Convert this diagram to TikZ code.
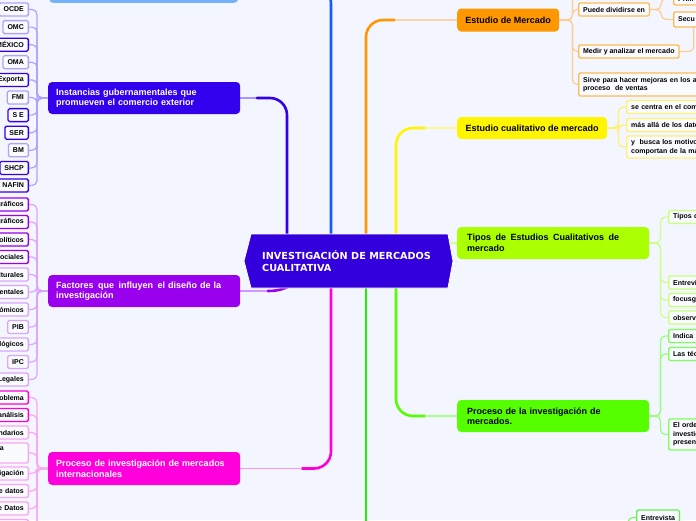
\documentclass[tikz,border=0pt]{standalone}
\usepackage{fontspec}
\setmainfont{Liberation Sans}
\newfontfamily\centerfont{DejaVu Sans}
\pgfdeclarelayer{back}
\pgfdeclarelayer{links}
\pgfsetlayers{back,links,main}
\definecolor{bgc}{RGB}{243,246,254}
\definecolor{cenC}{RGB}{51,0,221}
\definecolor{instC}{RGB}{51,0,238}
\definecolor{instH}{RGB}{170,150,255}
\definecolor{instL}{RGB}{175,162,255}
\definecolor{factC}{RGB}{153,0,238}
\definecolor{factH}{RGB}{210,150,255}
\definecolor{factL}{RGB}{218,165,255}
\definecolor{pintC}{RGB}{255,0,221}
\definecolor{pintH}{RGB}{250,150,240}
\definecolor{pintL}{RGB}{252,165,242}
\definecolor{oraC}{RGB}{255,152,0}
\definecolor{oraH}{RGB}{250,212,165}
\definecolor{oraL}{RGB}{255,205,145}
\definecolor{oraB}{RGB}{255,185,80}
\definecolor{yelC}{RGB}{255,245,0}
\definecolor{yelH}{RGB}{255,245,150}
\definecolor{yelB}{RGB}{255,240,110}
\definecolor{limC}{RGB}{170,255,0}
\definecolor{limL}{RGB}{205,255,140}
\definecolor{limB}{RGB}{200,255,120}
\definecolor{grnC}{RGB}{85,255,0}
\definecolor{grnH}{RGB}{170,255,140}
\definecolor{grnL}{RGB}{150,255,120}
\definecolor{grnB}{RGB}{125,255,90}
\definecolor{gr2C}{RGB}{30,240,0}
\definecolor{gr2L}{RGB}{120,245,100}
\definecolor{gr2B}{RGB}{100,240,80}
\definecolor{bluC}{RGB}{20,90,255}
\definecolor{bluL}{RGB}{115,178,250}
\definecolor{leafF}{RGB}{250,251,255}
\tikzset{
  mbox/.style={anchor=west, rounded corners=4pt, inner ysep=0pt, align=left,
    font=\fontsize{9}{10.5}\selectfont\bfseries},
  leaf/.style={draw, line width=1.3pt, rounded corners=1.5pt, fill=leafF,
    inner xsep=4.5pt, inner ysep=0pt, minimum height=13pt,
    font=\fontsize{7}{8.6}\selectfont\bfseries, text=black},
  leafW/.style={leaf, anchor=west},
  leafE/.style={leaf, anchor=east},
  leafR/.style={leaf, anchor=west, text width=70pt, align=left},
  leafLc/.style={leaf, anchor=east, text width=40pt, align=right},
  trunk/.style={line width=2.6pt, line cap=round},
  branch/.style={line width=1.5pt},
  twig/.style={line width=1.2pt, rounded corners=5pt},
}
\begin{document}
\begin{tikzpicture}[x=1pt,y=-1pt]
\useasboundingbox (0,0) rectangle (696,520);
\begin{pgfonlayer}{back}
\fill[bgc] (0,0) rectangle (696,520);
\end{pgfonlayer}

% centre
\fill[cenC, draw=white, line width=0.8pt] (251,234) -- (448,234) -- (453,261) -- (448,288) -- (251,288) -- (244,261) -- cycle;
\node[font={\centerfont\fontsize{9.7}{12}\selectfont\bfseries}, text=white, align=left, anchor=west, inner sep=0pt] (C) at (262,261) {INVESTIGACIÓN DE MERCADOS\\CUALITATIVA};
\coordinate (cI) at (287,240);
\coordinate (cB) at (331,240);
\coordinate (cO) at (366,240);
\coordinate (cY) at (396,240);
\coordinate (cM) at (331,282);
\coordinate (cG) at (366,282);
\coordinate (cP) at (396,282);
\coordinate (cT) at (449,243);
\coordinate (cF) at (295,284);

% top node (cut)
\node[fill=bluL, rounded corners=4pt, minimum width=189pt, minimum height=33pt, anchor=south west, inner sep=0pt] (topn) at (49,3) {};

% main boxes
\node[mbox, fill=instC, text=white, text width=176pt, inner xsep=8pt, minimum height=32pt] (inst) at (48,98) {Instancias gubernamentales que\\promueven el comercio exterior};
\node[mbox, fill=factC, text=white, text width=176pt, inner xsep=8pt, minimum height=32pt] (fact) at (48,291) {\hbox to 165pt{Factores \hfill que \hfill influyen \hfill el diseño de la}\\investigación};
\node[mbox, fill=pintC, text=white, text width=176pt, inner xsep=8pt, minimum height=33pt] (pint) at (48,468.5) {Proceso de investigación de mercados\\internacionales};
\node[mbox, fill=oraC, text=black, minimum width=102pt, minimum height=23pt, align=center] (em) at (457,20) {Estudio de Mercado};
\node[mbox, fill=yelC, text=black, minimum width=150pt, minimum height=22pt, align=center] (ecm) at (457,128) {Estudio cualitativo de mercado};
\node[mbox, fill=limC, text=black, text width=172pt, inner xsep=10pt, minimum height=32pt] (tipos) at (457,243) {\hbox to 152pt{Tipos \hfill de \hfill Estudios \hfill Cualitativos \hfill de}\\mercado};
\node[mbox, fill=grnC, text=black, text width=172pt, inner xsep=10pt, minimum height=32pt] (proc) at (457,416) {Proceso de la investigación de\\mercados.};

% Instancias leaves
\node[leafE, draw=instL] (i1) at (29,9.5) {OCDE};
\node[leafE, draw=instL] (i2) at (29,27.1) {OMC};
\node[leafLc, draw=instC] (i3) at (29,44.7) {MÉXICO};
\node[leafE, draw=instL] (i4) at (29,62.3) {OMA};
\node[leafLc, draw=instC] (i5) at (29,79.9) {Exporta};
\node[leafE, draw=instL] (i6) at (29,97.5) {FMI};
\node[leafE, draw=instC] (i7) at (29,115.1) {S E};
\node[leafE, draw=instC] (i8) at (29,132.7) {SER};
\node[leafE, draw=instL] (i9) at (29,150.3) {BM};
\node[leafE, draw=instC] (i10) at (29,167.9) {SHCP};
\node[leafE, draw=instC] (i11) at (29,185.5) {NAFIN};

% Factores leaves
\node[leafLc, draw=factC] (f1) at (29,204.5) {gráficos};
\node[leafLc, draw=factC] (f2) at (29,222) {gráficos};
\node[leafLc, draw=factC] (f3) at (29,239.5) {olíticos};
\node[leafLc, draw=factC] (f4) at (29,257) {Sociales};
\node[leafLc, draw=factL] (f5) at (29,274.5) {lturales};
\node[leafLc, draw=factL] (f6) at (29,292) {entales};
\node[leafLc, draw=factL] (f7) at (29,309.5) {ómicos};
\node[leafE, draw=factL] (f8) at (29,327) {PIB};
\node[leafLc, draw=factL] (f9) at (29,344.5) {lógicos};
\node[leafE, draw=factL] (f10) at (29,362) {IPC};
\node[leafLc, draw=factL] (f11) at (29,379.5) {Legales};

% Proceso internacional leaves
\node[leafLc, draw=pintC] (m1) at (29,397.5) {oblema};
\node[leafLc, draw=pintC] (m2) at (29,415) {análisis};
\node[leafLc, draw=pintL] (m3) at (29,432.5) {ndarios};
\node[leaf, anchor=east, text width=40pt, align=left, minimum height=20pt, draw=pintL] (m4) at (29,453) {\hspace*{16pt}a\\\mbox{}};
\node[leafLc, draw=pintL] (m5) at (29,473.5) {igación};
\node[leafLc, draw=pintL] (m6) at (29,491) {e datos};
\node[leafLc, draw=pintL] (m7) at (29,508.5) {e Datos};
\node[leafLc, draw=pintL] (m8) at (29,526) {};
\coordinate (mOff) at (29,545);

% Estudio de Mercado leaves
\node[leafW, draw=oraB] (puede) at (578,9.5) {Puede dividirse en};
\node[leafW, draw=oraB] (medir) at (578,51.5) {Medir y analizar el mercado};
\node[leafR, draw=oraB, text width=140pt, minimum height=23pt] (sirve) at (578,84.5) {Sirve para hacer mejoras en los as\\proceso\ \ de ventas};
\node[leafR, draw=oraB] (prim) at (673,-1.5) {Prim};
\node[leafR, draw=oraB, minimum height=15pt] (secu) at (673,19.5) {Secu};
\coordinate (oTop) at (578,-25);
\coordinate (mdOff) at (720,20);

% Estudio cualitativo leaves
\node[leafR, draw=yelB] (y1) at (626,107) {se centra en el com};
\node[leafR, draw=yelB] (y2) at (626,125) {más allá de los dato};
\node[leafR, draw=yelB, minimum height=22pt] (y3) at (626,147) {y\ \ busca los motivo\\comportan de la ma};

% Tipos leaves
\node[leafR, draw=limB] (t1) at (668,217) {Tipos d};
\node[leafR, draw=limB] (t2) at (668,282.5) {Entrevi};
\node[leafR, draw=limB] (t3) at (668,300) {focusg};
\node[leafR, draw=limB] (t4) at (668,317.5) {observ};

% Proceso leaves
\node[leafR, draw=grnB] (p1) at (668,336) {Indica l};
\node[leafR, draw=grnB] (p2) at (668,354) {Las téc};
\node[leafR, draw=grnB, minimum height=31pt] (p3) at (668,434.5) {El orde\\investig\\presen};

% bottom
\node[leafW, draw=gr2B, minimum height=15pt] (entr) at (636,517.5) {Entrevista};
\coordinate (eOff) at (628,545);
\coordinate (gOff) at (366,530);

\begin{pgfonlayer}{links}
% trunks
\draw[branch, instH] (257,98) -- (inst.east);
\draw[trunk, instC, rounded corners=17pt] (cI) |- (257,98);
\draw[branch, factH] (fact.east) -- (268,291);
\draw[trunk, factC] (268,291) .. controls (280,291) and (285,288) .. (cF);
\draw[trunk, bluC, rounded corners=17pt] (cB) |- (topn.east);
\draw[trunk, oraC, rounded corners=17pt] (cO) |- (395,20);
\draw[branch, oraH] (395,20) -- (em.west);
\draw[trunk, yelC, rounded corners=17pt] (cY) |- (425,128);
\draw[branch, yelH] (425,128) -- (ecm.west);
\draw[twig, limL] (cT) -- (tipos.west);
\draw[trunk, pintC, rounded corners=17pt] (cM) |- (302,468.5);
\draw[branch, pintH] (302,468.5) -- (pint.east);
\draw[trunk, gr2C] (cG) -- (gOff);
\draw[trunk, grnC, rounded corners=17pt] (cP) |- (425,416);
\draw[branch, grnH] (425,416) -- (proc.west);
% twigs
\foreach \n in {i1,i2,i3,i4,i5,i6,i7,i8,i9,i10,i11}
  \draw[twig, instL] (inst.west) -- ++(-11,0) |- (\n.east);
\foreach \n in {f1,f2,f3,f4,f5,f6,f7,f8,f9,f10,f11}
  \draw[twig, factL] (fact.west) -- ++(-11,0) |- (\n.east);
\foreach \n in {m1,m2,m3,m4,m5,m6,m7,m8}
  \draw[twig, pintL] (pint.west) -- ++(-11,0) |- (\n.east);
\draw[twig, pintL] (pint.west) -- ++(-11,0) |- (mOff);
\foreach \n in {puede,medir,sirve}
  \draw[twig, oraL] (em.east) -- ++(13,0) |- (\n.west);
\draw[twig, oraL] (em.east) -- ++(13,0) |- (oTop);
\draw[twig, oraL] (puede.east) -- ++(11,0) |- (prim.west);
\draw[twig, oraL] (puede.east) -- ++(11,0) |- (secu.west);
\draw[twig, oraL] (medir.east) -- ++(14,0) |- (mdOff);
\foreach \n in {y1,y2,y3}
  \draw[twig, yelB] (ecm.east) -- ++(11,0) |- (\n.west);
\foreach \n in {t1,t2,t3,t4}
  \draw[twig, limL] (tipos.east) -- ++(11,0) |- (\n.west);
\foreach \n in {p1,p2,p3}
  \draw[twig, grnL] (proc.east) -- ++(11,0) |- (\n.west);
\draw[twig, gr2L] (eOff) |- (entr.west);
\end{pgfonlayer}
\end{tikzpicture}
\end{document}
